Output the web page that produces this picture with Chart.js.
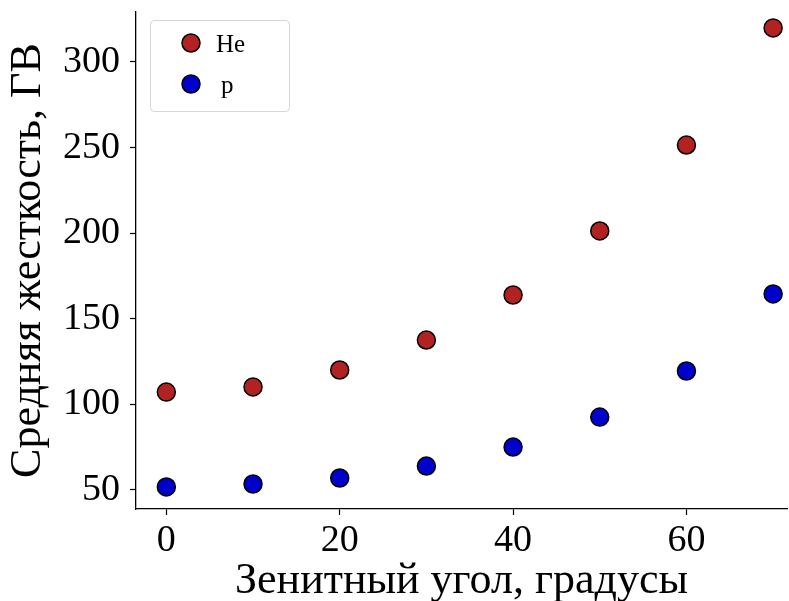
<!DOCTYPE html>
<html>
<head>
<meta charset="utf-8">
<script src="https://cdn.jsdelivr.net/npm/chart.js@4.4.0/dist/chart.umd.min.js"></script>
<style>
  html, body { margin: 0; padding: 0; background: #fff; }
  #wrap { width: 789px; height: 601px; }
</style>
</head>
<body>
<div id="wrap"><canvas id="chart" width="789" height="601"></canvas></div>
<script>
// Зенитные углы, градусы
const angles = [0, 10, 20, 30, 40, 50, 60, 70];
// Средняя жесткость, ГВ
const rigidityHe = [107.2, 110.2, 120.1, 137.6, 163.9, 201.3, 251.5, 319.9];
const rigidityP = [51.8, 53.5, 57.0, 64.0, 75.1, 92.6, 119.5, 164.5];
const seriesLabels = ['He', 'p'];
const xTicks = [0, 20, 40, 60];
const yTicks = [50, 100, 150, 200, 250, 300];

const serif = '"Liberation Serif", "DejaVu Serif", serif';

function toPoints(xs, ys) {
    return xs.map((x, i) => ({x: x, y: ys[i]}));
}

// без запаса под подписи крайних делений
function noEdgePadding(s) {
    s.paddingTop = 0;
    s.paddingBottom = 0;
    s.paddingLeft = 0;
    s.paddingRight = 0;
}

// рамка легенды с маркерами
const legendBox = {
    id: 'legendBox',
    afterDraw(chart) {
        const ctx = chart.ctx;
        const x0 = 150, y0 = 20, w = 139, h = 91, r = 4;
        ctx.save();
        ctx.fillStyle = 'rgba(255,255,255,0.8)';
        ctx.strokeStyle = '#d6d6d6';
        ctx.lineWidth = 1;
        ctx.beginPath();
        ctx.roundRect(x0 + 0.5, y0 + 0.5, w, h, r);
        ctx.fill();
        ctx.stroke();
        chart.data.datasets.forEach((ds, i) => {
            const cy = 43 + i * 41;
            ctx.beginPath();
            ctx.arc(191, cy, 9, 0, Math.PI * 2);
            ctx.fillStyle = ds.backgroundColor;
            ctx.fill();
            ctx.lineWidth = 1.5;
            ctx.strokeStyle = '#000';
            ctx.stroke();
            ctx.fillStyle = '#000';
            ctx.font = '25px ' + serif;
            ctx.textBaseline = 'alphabetic';
            ctx.textAlign = 'left';
            ctx.fillText(ds.label, ds.label === 'p' ? 221 : 216, cy + 9);
        });
        ctx.restore();
    }
};

const ctx = document.getElementById('chart').getContext('2d');
new Chart(ctx, {
    type: 'scatter',
    data: {
        datasets: [
            {
                label: seriesLabels[0],
                data: toPoints(angles, rigidityHe),
                backgroundColor: '#b22222',
                borderColor: '#000',
                borderWidth: 1.5,
                pointRadius: 9,
                pointHoverRadius: 9
            },
            {
                label: seriesLabels[1],
                data: toPoints(angles, rigidityP),
                backgroundColor: '#0000cd',
                borderColor: '#000',
                borderWidth: 1.5,
                pointRadius: 9,
                pointHoverRadius: 9
            }
        ]
    },
    options: {
        responsive: false,
        animation: false,
        layout: { autoPadding: false, padding: { top: 12, right: 2, left: 0, bottom: 0 } },
        plugins: {
            legend: { display: false },
            tooltip: { enabled: false }
        },
        scales: {
            x: {
                type: 'linear',
                min: -3.5,
                max: 71.6,
                afterBuildTicks: s => { s.ticks = xTicks.map(v => ({value: v})); },
                afterFit: s => { s.height = 92; noEdgePadding(s); },
                grid: { drawOnChartArea: false, drawTicks: true, tickLength: 6, color: '#000', tickWidth: 1.2 },
                border: { display: true, color: '#000', width: 1.3 },
                ticks: { color: '#000', font: { family: serif, size: 38 }, padding: 3, maxRotation: 0 },
                title: {
                    display: true,
                    text: 'Зенитный угол, градусы',
                    color: '#000',
                    font: { family: serif, size: 44, lineHeight: 0.9 },
                    padding: { top: 0, bottom: 0 }
                }
            },
            y: {
                type: 'linear',
                min: 38.9,
                max: 329.2,
                afterBuildTicks: s => { s.ticks = yTicks.map(v => ({value: v})); },
                afterFit: s => { s.width = 136; noEdgePadding(s); },
                grid: { drawOnChartArea: false, drawTicks: true, tickLength: 6, color: '#000', tickWidth: 1.2 },
                border: { display: true, color: '#000', width: 1.3 },
                ticks: { color: '#000', font: { family: serif, size: 38 }, padding: 10 },
                title: {
                    display: true,
                    text: 'Средняя жесткость, ГВ',
                    color: '#000',
                    font: { family: serif, size: 44, lineHeight: 1 },
                    padding: { top: 6, bottom: 0 }
                }
            }
        }
    },
    plugins: [legendBox]
});
</script>
</body>
</html>
